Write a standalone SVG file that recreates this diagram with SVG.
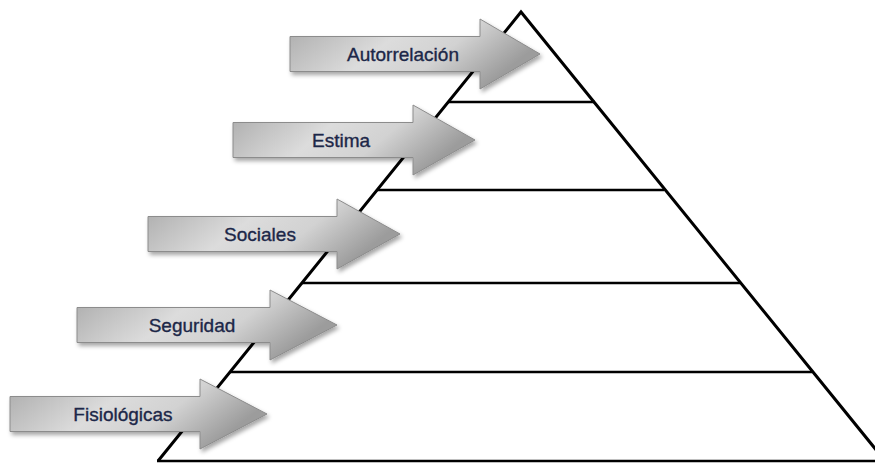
<svg xmlns="http://www.w3.org/2000/svg" width="875" height="464" viewBox="0 0 875 464">
<defs>
<linearGradient id="g" x1="0" y1="0" x2="1" y2="0.35">
<stop offset="0" stop-color="#a9a9a9"/>
<stop offset="0.45" stop-color="#dcdcdc"/>
<stop offset="0.7" stop-color="#d2d2d2"/>
<stop offset="1" stop-color="#9c9c9c"/>
</linearGradient>
<filter id="sh" x="-10%" y="-20%" width="130%" height="150%">
<feDropShadow dx="2" dy="3" stdDeviation="2" flood-color="#000" flood-opacity="0.35"/>
</filter>
</defs>
<style>
.edge{fill:none;stroke:#000;stroke-width:3;stroke-linejoin:miter}
.lvl{stroke:#000;stroke-width:2.5}
.arr{fill:url(#g);stroke:#8c8c8c;stroke-width:1;filter:url(#sh)}
.lbl{font-family:"Liberation Sans",Arial,sans-serif;font-size:19px;fill:#1c2748;stroke:#1c2748;stroke-width:0.35;text-anchor:middle}
</style>
<g id="pyramid">
<path class="edge" d="M158,461 L521,12 L890,467"/>
<line class="lvl" x1="157" y1="461" x2="875" y2="461"/>
<line class="lvl" x1="448" y1="102" x2="595" y2="102"/>
<line class="lvl" x1="377" y1="190" x2="664" y2="190"/>
<line class="lvl" x1="302" y1="283" x2="740" y2="283"/>
<line class="lvl" x1="230" y1="372" x2="812" y2="372"/>
</g>
<g id="autorrelacion">
<path class="arr" d="M290,36.5 H480 V19 L540,54 L480,89 V71.5 H290 Z"/>
<text class="lbl" x="403" y="61">Autorrelación</text>
</g>
<g id="estima">
<path class="arr" d="M233,122.5 H413 V105 L475,140 L413,175 V157.5 H233 Z"/>
<text class="lbl" x="341" y="147">Estima</text>
</g>
<g id="sociales">
<path class="arr" d="M148,216.5 H337 V199 L400,234 L337,269 V251.5 H148 Z"/>
<text class="lbl" x="260" y="241">Sociales</text>
</g>
<g id="seguridad">
<path class="arr" d="M77,307.5 H270 V290 L337,325 L270,360 V342.5 H77 Z"/>
<text class="lbl" x="192" y="332">Seguridad</text>
</g>
<g id="fisiologicas">
<path class="arr" d="M10,396.5 H200 V379 L267,414 L200,449 V431.5 H10 Z"/>
<text class="lbl" x="123" y="421">Fisiológicas</text>
</g>
</svg>
